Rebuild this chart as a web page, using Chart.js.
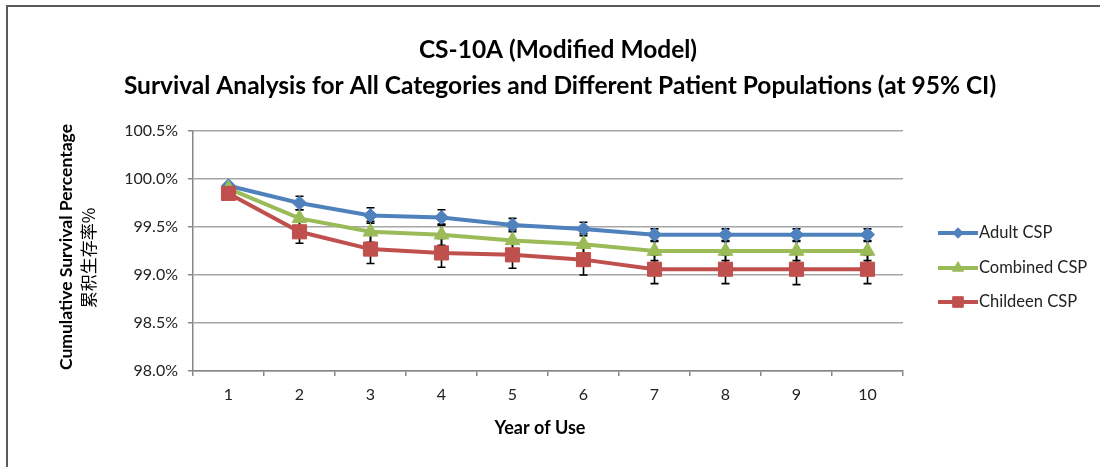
<!DOCTYPE html>
<html><head><meta charset="utf-8">
<script src="https://cdn.jsdelivr.net/npm/chart.js@4.4.0/dist/chart.umd.min.js"></script>
<style>
html,body{margin:0;padding:0;background:#fff;}
#wrap{position:relative;width:1100px;height:467px;overflow:hidden;background:#fff;}
#frame{position:absolute;left:6px;top:5px;width:1300px;height:700px;border-left:2px solid #595959;border-top:2px solid #595959;pointer-events:none;}
canvas{position:absolute;left:0;top:0;}
</style></head><body>
<div id="wrap"><canvas id="c" width="1100" height="467"></canvas><div id="frame"></div></div>
<script>
// ---- data ----
const categories = ['1','2','3','4','5','6','7','8','9','10'];
const seriesNames = ['Adult CSP','Combined CSP','Childeen CSP'];
const adultCSP    = [99.93, 99.75, 99.62, 99.60, 99.52, 99.48, 99.42, 99.42, 99.42, 99.42];
const combinedCSP = [99.90, 99.59, 99.45, 99.42, 99.36, 99.32, 99.25, 99.25, 99.25, 99.25];
const childeenCSP = [99.85, 99.45, 99.27, 99.23, 99.21, 99.16, 99.06, 99.06, 99.06, 99.06];
const adultErr    = [0.02, 0.07, 0.08, 0.08, 0.07, 0.07, 0.06, 0.06, 0.06, 0.06];
const combinedErr = [0.02, 0.09, 0.11, 0.11, 0.11, 0.11, 0.10, 0.10, 0.10, 0.10];
const childeenErr = [0.03, 0.12, 0.15, 0.15, 0.14, 0.16, 0.15, 0.15, 0.16, 0.15];
const yTicks = [98.0, 98.5, 99.0, 99.5, 100.0, 100.5];
const titleLines = ['CS-10A (Modified Model)', 'Survival Analysis for All Categories and Different Patient Populations (at 95% CI)'];
const yTitleLines = ['Cumulative Survival Percentage', '累积生存率%'];
const xTitle = 'Year of Use';

const FONT = 'Lato, "Open Sans", sans-serif';
const CJK = '"Noto Sans CJK SC", sans-serif';
const colors = ['#4F81BD', '#9BBB59', '#C0504D'];
const styles = ['rectRot', 'triangle', 'rect'];
const radii = [7, 8.5, 10];
const values = [adultCSP, combinedCSP, childeenCSP];
const errs = [adultErr, combinedErr, childeenErr];

const errorBars = {
  id: 'errorBars',
  beforeDatasetsDraw(chart) {
    const ctx = chart.ctx, ys = chart.scales.y;
    ctx.save();
    ctx.strokeStyle = '#000';
    ctx.lineWidth = 1.6;
    chart.data.datasets.forEach((ds, i) => {
      const meta = chart.getDatasetMeta(i);
      ds.data.forEach((v, j) => {
        const e = ds.errors[j];
        const x = meta.data[j].x;
        const y1 = ys.getPixelForValue(v + e), y2 = ys.getPixelForValue(v - e);
        ctx.beginPath();
        ctx.moveTo(x, y1); ctx.lineTo(x, y2);
        ctx.moveTo(x - 4, y1); ctx.lineTo(x + 4, y1);
        ctx.moveTo(x - 4, y2); ctx.lineTo(x + 4, y2);
        ctx.stroke();
      });
    });
    ctx.restore();
  }
};

const decorations = {
  id: 'decorations',
  afterDraw(chart) {
    const ctx = chart.ctx;
    ctx.save();
    ctx.fillStyle = '#000';
    ctx.textAlign = 'center';
    ctx.textBaseline = 'middle';
    ctx.font = 'bold 24.5px ' + FONT;
    ctx.fillText(titleLines[0], 558, 50);
    ctx.fillText(titleLines[1], 560, 86);
    // x title
    ctx.font = 'bold 18px ' + FONT;
    ctx.fillText(xTitle, 540, 428);
    // y title
    ctx.save();
    ctx.translate(66, 247);
    ctx.rotate(-Math.PI / 2);
    ctx.font = 'bold 17.5px ' + FONT;
    ctx.fillText(yTitleLines[0], 0, 0);
    ctx.restore();
    ctx.save();
    ctx.translate(89, 258);
    ctx.rotate(-Math.PI / 2);
    ctx.font = '17px ' + CJK;
    ctx.fillText(yTitleLines[1], 0, 0);
    ctx.restore();
    // legend
    const ly = [233, 268, 302];
    chart.data.datasets.forEach((ds, i) => {
      const y = ly[i];
      ctx.strokeStyle = ds.borderColor;
      ctx.lineWidth = 4;
      ctx.beginPath(); ctx.moveTo(938, y); ctx.lineTo(978, y); ctx.stroke();
      ctx.fillStyle = ds.borderColor;
      ctx.strokeStyle = ds.borderColor;
      ctx.lineWidth = 1;
      Chart.helpers.drawPoint(ctx, {pointStyle: ds.pointStyle, radius: ds.pointRadius * 0.75, rotation: 0, borderWidth: 1}, 958, y);
      ctx.fillStyle = '#222';
      ctx.textAlign = 'left';
      ctx.font = '16.5px ' + FONT;
      ctx.fillText(ds.label, 979, y);
    });
    ctx.restore();
  }
};

new Chart(document.getElementById('c'), {
  type: 'line',
  data: {
    labels: categories,
    datasets: seriesNames.map((n, i) => ({
      label: n,
      data: values[i],
      errors: errs[i],
      borderColor: colors[i],
      backgroundColor: colors[i],
      pointBackgroundColor: colors[i],
      pointBorderColor: colors[i],
      pointStyle: styles[i],
      pointRadius: radii[i],
      pointBorderWidth: 1,
      borderWidth: 4,
      tension: 0,
      order: 3 - i
    }))
  },
  options: {
    responsive: false,
    animation: false,
    events: [],
    layout: { padding: { left: 0, top: 131, right: 197, bottom: 0 } },
    plugins: { legend: { display: false }, title: { display: false }, tooltip: { enabled: false } },
    scales: {
      x: {
        offset: true,
        afterFit(s) { s.height = 96; },
        grid: { display: true, drawOnChartArea: false, drawTicks: true, tickLength: 5, offset: true, color: '#868686', lineWidth: 1.5 },
        border: { display: true, color: '#868686', width: 1.5 },
        ticks: { color: '#222', padding: 9, font: { family: FONT, size: 16 } }
      },
      y: {
        min: 98, max: 100.5,
        afterFit(s) { s.width = 193; },
        afterBuildTicks(s) { s.ticks = yTicks.map(v => ({ value: v })); },
        grid: { color: '#a6a6a6', lineWidth: 1.5, tickLength: 5, tickColor: '#868686' },
        border: { display: true, color: '#868686', width: 1.5 },
        ticks: { color: '#222', padding: 10, font: { family: FONT, size: 16 }, callback: v => v.toFixed(1) + '%' }
      }
    }
  },
  plugins: [errorBars, decorations]
});
</script>
</body></html>
